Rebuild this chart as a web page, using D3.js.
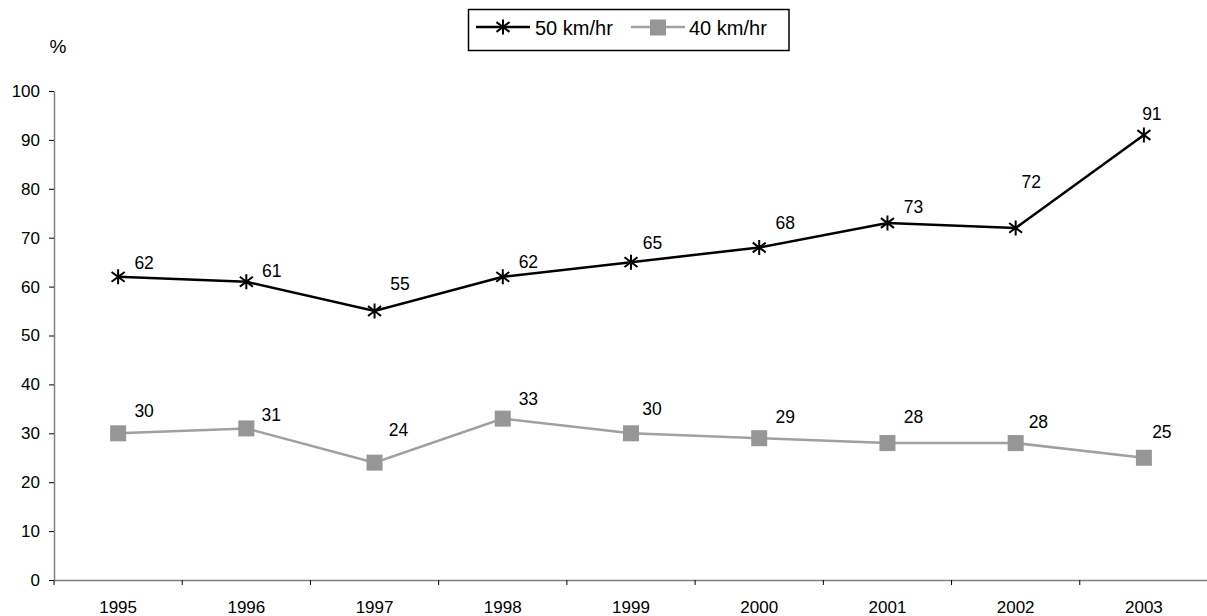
<!DOCTYPE html>
<html>
<head>
<meta charset="utf-8">
<script src="https://cdn.jsdelivr.net/npm/d3@7/dist/d3.min.js"></script>
<style>
  html, body { margin: 0; padding: 0; background: #fff; }
  svg { display: block; font-family: "Liberation Sans", Arial, sans-serif; }
</style>
</head>
<body>
<svg id="chart" width="1207" height="616"></svg>
<script>
// Survey years and share of vehicles (%) per speed zone
const years = ["1995","1996","1997","1998","1999","2000","2001","2002","2003"];
const speed50 = [62, 61, 55, 62, 65, 68, 73, 72, 91];
const speed40 = [30, 31, 24, 33, 30, 29, 28, 28, 25];
const seriesNames = ["50 km/hr", "40 km/hr"];
const yTicks = [0, 10, 20, 30, 40, 50, 60, 70, 80, 90, 100];

// Hand-placed value label nudges [dx, dy] from each point
const nudge50 = [[26,-13.5],[25.4,-11],[25.5,-26.7],[25.6,-15],[21.4,-19],[26,-24],[26,-16],[15.5,-46],[8,-21]];
const nudge40 = [[26,-22],[25,-13.4],[24,-32.6],[25.6,-19.3],[21,-24],[26,-21],[26,-26],[22.7,-21],[18,-26]];

const svg = d3.select("#chart");
const plotLeft = 54, plotRight = 1208, plotTop = 91, plotBottom = 580;

const x = d3.scaleBand().domain(years).range([plotLeft, plotRight]);
const y = d3.scaleLinear().domain([0, 100]).range([plotBottom, plotTop]);
const cx = d => x(d) + x.bandwidth() / 2;

const axisColor = "#808080";

// Y axis
const yAxis = svg.append("g")
  .attr("transform", `translate(${plotLeft},0)`)
  .call(d3.axisLeft(y).tickValues(yTicks).tickSize(5).tickPadding(9).tickSizeOuter(0));
yAxis.select(".domain").attr("stroke", axisColor).attr("stroke-width", 1.5);
yAxis.selectAll(".tick line").attr("stroke", "#000");
yAxis.selectAll(".tick text").attr("font-size", 17).attr("fill", "#000")
  .attr("font-family", "Liberation Sans, Arial, sans-serif");

// X axis: labels centred in each band, tick marks on band boundaries
const xAxis = svg.append("g")
  .attr("transform", `translate(0,${plotBottom})`)
  .call(d3.axisBottom(x).tickSize(0).tickPadding(21).tickSizeOuter(0));
xAxis.select(".domain").attr("stroke", axisColor).attr("stroke-width", 1.5);
xAxis.selectAll(".tick text").attr("font-size", 17).attr("fill", "#000")
  .attr("font-family", "Liberation Sans, Arial, sans-serif");
xAxis.selectAll(".boundary")
  .data(years)
  .enter().append("line")
  .attr("x1", d => x(d)).attr("x2", d => x(d))
  .attr("y1", 0).attr("y2", 5)
  .attr("stroke", "#000").attr("stroke-width", 1);

// Unit label
svg.append("text").attr("x", 58).attr("y", 46)
  .attr("text-anchor", "middle").attr("dominant-baseline", "central")
  .attr("font-size", 19).text("%");

const line = d3.line().x((d, i) => cx(years[i])).y(d => y(d));

// Asterisk marker path (X plus vertical stroke)
function starPath(px, py, r) {
  const a = r * 0.87;
  return `M${px - a},${py - a * 0.75}L${px + a},${py + a * 0.75}` +
         `M${px - a},${py + a * 0.75}L${px + a},${py - a * 0.75}` +
         `M${px},${py - r}L${px},${py + r}`;
}

// 40 km/hr series
svg.append("path").datum(speed40)
  .attr("d", line).attr("fill", "none")
  .attr("stroke", "#a0a0a0").attr("stroke-width", 2.5);
svg.selectAll(".sq40").data(speed40).enter().append("rect")
  .attr("x", (d, i) => cx(years[i]) - 8).attr("y", d => y(d) - 8)
  .attr("width", 16).attr("height", 16).attr("fill", "#969696");

// 50 km/hr series
svg.append("path").datum(speed50)
  .attr("d", line).attr("fill", "none")
  .attr("stroke", "#000").attr("stroke-width", 2.5);
svg.selectAll(".st50").data(speed50).enter().append("path")
  .attr("d", (d, i) => starPath(cx(years[i]), y(d), 7.5))
  .attr("stroke", "#000").attr("stroke-width", 2).attr("fill", "none");

// Value labels
function valueLabels(vals, nudges) {
  svg.append("g").selectAll("text").data(vals).enter().append("text")
    .attr("x", (d, i) => cx(years[i]) + nudges[i][0])
    .attr("y", (d, i) => y(d) + nudges[i][1])
    .attr("text-anchor", "middle").attr("dominant-baseline", "central")
    .attr("font-size", 17.5).attr("fill", "#000")
    .text(d => d);
}
valueLabels(speed50, nudge50);
valueLabels(speed40, nudge40);

// Legend
const lg = svg.append("g");
lg.append("rect").attr("x", 468.5).attr("y", 9.5).attr("width", 320.5).attr("height", 41)
  .attr("fill", "#fff").attr("stroke", "#000").attr("stroke-width", 1.5);
lg.append("line").attr("x1", 476).attr("x2", 530).attr("y1", 27).attr("y2", 27)
  .attr("stroke", "#000").attr("stroke-width", 2.5);
lg.append("path").attr("d", starPath(503, 27, 7.5))
  .attr("stroke", "#000").attr("stroke-width", 2).attr("fill", "none");
lg.append("text").attr("x", 535).attr("y", 28).attr("dominant-baseline", "central")
  .attr("font-size", 20).text(seriesNames[0]);
lg.append("line").attr("x1", 631).attr("x2", 685).attr("y1", 27).attr("y2", 27)
  .attr("stroke", "#a0a0a0").attr("stroke-width", 2.5);
lg.append("rect").attr("x", 650).attr("y", 19.5).attr("width", 16).attr("height", 16)
  .attr("fill", "#969696");
lg.append("text").attr("x", 689).attr("y", 28).attr("dominant-baseline", "central")
  .attr("font-size", 20).text(seriesNames[1]);
</script>
</body>
</html>
